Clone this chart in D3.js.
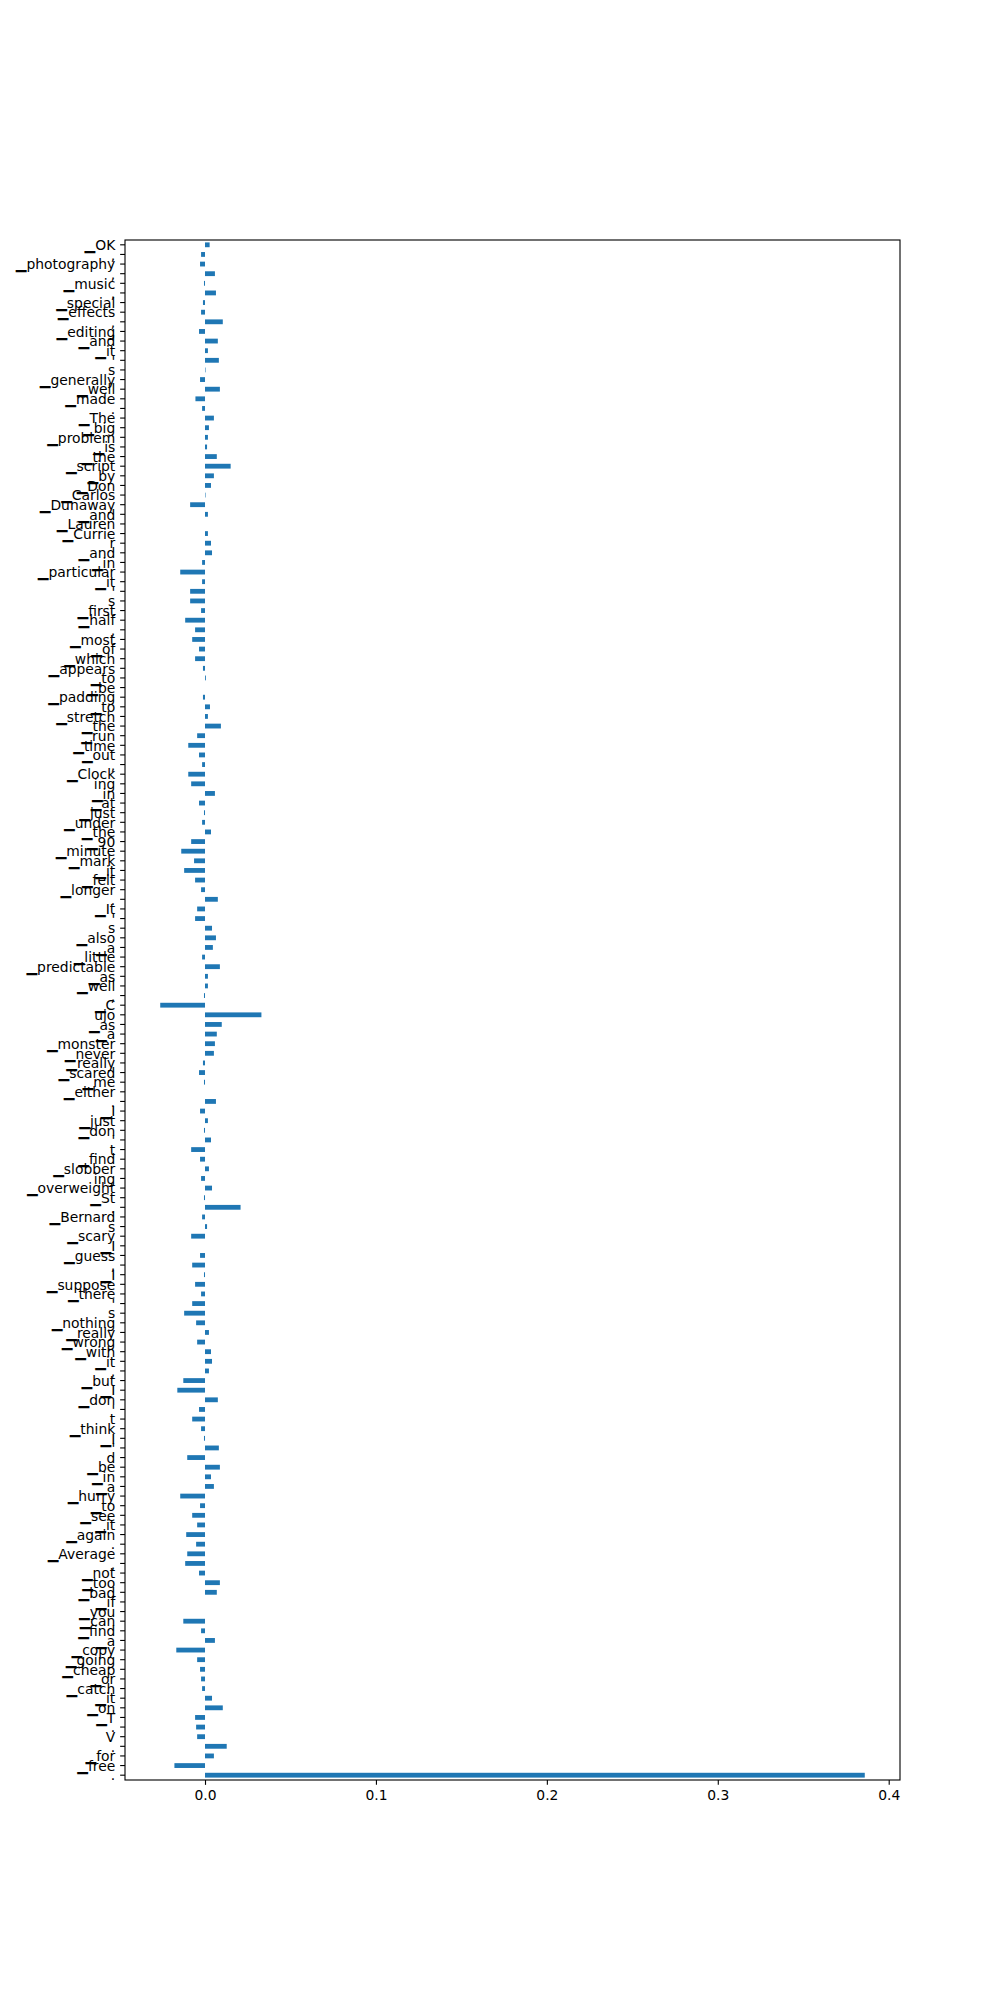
<!DOCTYPE html>
<html>
<head>
<meta charset="utf-8">
<script src="https://cdn.jsdelivr.net/npm/d3@7"></script>
<style>
  html, body { margin: 0; padding: 0; background: #fff; }
  svg { display: block; }
</style>
</head>
<body>
<svg id="chart" width="1000" height="2000"></svg>
<script>
// Tokens, top to bottom as shown in the chart
const tokens = [
  "▁OK", ",", "▁photography", ",", "▁music", ",", "▁special", "▁effects", ",", "▁editing",
  "▁and", "▁it", "'", "s", "▁generally", "▁well", "▁made", ".", "▁The", "▁big",
  "▁problem", "▁is", "▁the", "▁script", "▁by", "▁Don", "▁Carlos", "▁Dunaway", "▁and", "▁Lauren",
  "▁Currie", "r", "▁and", "▁in", "▁particular", "▁it", "'", "s", "▁first", "▁half",
  ",", "▁most", "▁of", "▁which", "▁appears", "▁to", "▁be", "▁padding", "▁to", "▁stretch",
  "▁the", "▁run", "▁time", "▁out", ",", "▁Clock", "ing", "▁in", "▁at", "▁just",
  "▁under", "▁the", "▁90", "▁minute", "▁mark", "▁it", "▁felt", "▁longer", ".", "▁It",
  "'", "s", "▁also", "▁a", "▁little", "▁predictable", "▁as", "▁well", ",", "▁C",
  "ujo", "▁as", "▁a", "▁monster", "▁never", "▁really", "▁scared", "▁me", "▁either", ".",
  "▁I", "▁just", "▁don", "'", "t", "▁find", "▁slobber", "ing", "▁overweight", "▁St",
  ".", "▁Bernard", "s", "▁scary", "▁I", "▁guess", ",", "▁I", "▁suppose", "▁there",
  "'", "s", "▁nothing", "▁really", "▁wrong", "▁with", "▁it", ",", "▁but", "▁I",
  "▁don", "'", "t", "▁think", "▁I", "'", "d", "▁be", "▁in", "▁a",
  "▁hurry", "▁to", "▁see", "▁it", "▁again", ".", "▁Average", ",", "▁not", "▁too",
  "▁bad", "▁if", "▁you", "▁can", "▁find", "▁a", "▁copy", "▁going", "▁cheap", "▁or",
  "▁catch", "▁it", "▁on", "▁T", ".", "V", ".", "▁for", "▁free", "."
];

// Attribution value per token (same order)
const weights = [
  0.0027, -0.0023, -0.0029, 0.0058, -0.0006, 0.0064, -0.0012, -0.0023, 0.0104, -0.0035,
  0.0075, 0.0017, 0.0081, 0.0003, -0.0029, 0.0087, -0.0056, -0.0017, 0.0052, 0.0023,
  0.0017, 0.0012, 0.0069, 0.0150, 0.0052, 0.0035, 0.0003, -0.0087, 0.0017, 0.0,
  0.0017, 0.0035, 0.0041, -0.0017, -0.0145, -0.0017, -0.0087, -0.0087, -0.0023, -0.0116,
  -0.0058, -0.0075, -0.0035, -0.0058, -0.0012, 0.0005, 0.0, -0.0012, 0.0029, 0.0017,
  0.0093, -0.0046, -0.0098, -0.0035, -0.0017, -0.0098, -0.0081, 0.0058, -0.0035, -0.0006,
  -0.0017, 0.0035, -0.0081, -0.0139, -0.0064, -0.0122, -0.0058, -0.0023, 0.0075, -0.0046,
  -0.0058, 0.0041, 0.0064, 0.0046, -0.0017, 0.0087, 0.0017, 0.0017, -0.0006, -0.0262,
  0.0330, 0.0098, 0.0069, 0.0058, 0.0052, -0.0012, -0.0035, -0.0006, 0.0, 0.0064,
  -0.0029, 0.0017, -0.0006, 0.0035, -0.0081, -0.0029, 0.0023, -0.0023, 0.0041, -0.0006,
  0.0208, -0.0017, 0.0012, -0.0081, 0.0, -0.0029, -0.0075, -0.0006, -0.0058, -0.0023,
  -0.0075, -0.0122, -0.0052, 0.0023, -0.0046, 0.0035, 0.0041, 0.0023, -0.0127, -0.0162,
  0.0075, -0.0035, -0.0075, -0.0023, -0.0006, 0.0081, -0.0104, 0.0087, 0.0035, 0.0052,
  -0.0145, -0.0029, -0.0075, -0.0046, -0.0110, -0.0052, -0.0104, -0.0116, -0.0035, 0.0087,
  0.0069, 0.0, 0.0, -0.0127, -0.0023, 0.0058, -0.0168, -0.0046, -0.0029, -0.0023,
  -0.0017, 0.0041, 0.0104, -0.0058, -0.0052, -0.0046, 0.0127, 0.0052, -0.0179, 0.386
];

const xTickValues = [0.0, 0.1, 0.2, 0.3, 0.4];

(function () {
  const data = tokens.map((t, i) => ({ id: i, token: t, value: weights[i] }));

  const svg = d3.select("#chart");
  const mLeft = 125, mRight = 900, mTop = 240, mBottom = 1780;
  const fontSize = 13.89;
  const tickLen = 4.86, pad = 4.86;

  // matplotlib-like 5% margins
  const dmin = Math.min(0, d3.min(weights)), dmax = Math.max(0, d3.max(weights));
  const span = dmax - dmin;
  const x = d3.scaleLinear().domain([dmin - 0.05 * span, dmax + 0.05 * span]).range([mLeft, mRight]);
  const y = d3.scaleBand().domain(data.map(d => d.id)).range([mTop, mBottom])
    .paddingInner(0.5).paddingOuter(0.25);

  // bars
  svg.append("g").selectAll("rect").data(data).enter().append("rect")
    .attr("x", d => Math.min(x(0), x(d.value)))
    .attr("y", d => y(d.id))
    .attr("width", d => Math.abs(x(d.value) - x(0)))
    .attr("height", y.bandwidth())
    .attr("fill", "#1f77b4");

  // y axis
  const yAxis = d3.axisLeft(y).tickSize(tickLen).tickPadding(pad).tickFormat(i => tokens[i]);
  const gy = svg.append("g").attr("transform", `translate(${mLeft},0)`).call(yAxis);
  gy.select(".domain").remove();
  gy.selectAll("line").attr("stroke", "#000").attr("stroke-width", 1.11);
  gy.selectAll("text")
    .attr("font-family", "DejaVu Sans")
    .attr("font-size", fontSize)
    .attr("fill", "#000")
    .attr("dy", "0.38em");

  // x axis
  const xAxis = d3.axisBottom(x).tickValues(xTickValues).tickSize(tickLen).tickPadding(pad)
    .tickFormat(d3.format(".1f"));
  const gx = svg.append("g").attr("transform", `translate(0,${mBottom})`).call(xAxis);
  gx.select(".domain").remove();
  gx.selectAll("line").attr("stroke", "#000").attr("stroke-width", 1.11);
  gx.selectAll("text")
    .attr("font-family", "DejaVu Sans")
    .attr("font-size", fontSize)
    .attr("fill", "#000")
    .attr("dy", "0.76em");

  // spines
  svg.append("rect")
    .attr("x", mLeft).attr("y", mTop)
    .attr("width", mRight - mLeft).attr("height", mBottom - mTop)
    .attr("fill", "none").attr("stroke", "#000").attr("stroke-width", 1.11);
})();
</script>
</body>
</html>
